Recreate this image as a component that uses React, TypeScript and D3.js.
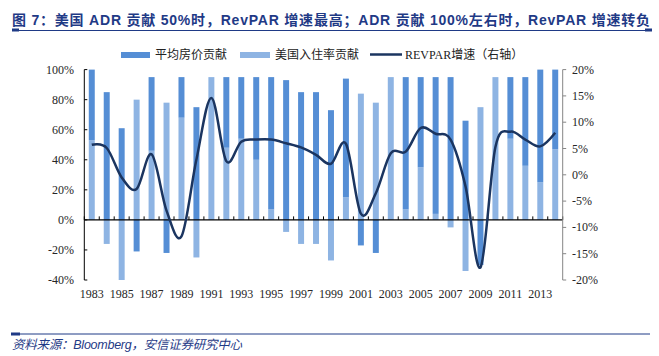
import React from "react";
import * as d3 from "d3";

const years = d3.range(1983, 2015).map(String);
const adrContribution = [47, 85, 61, -21, 49, -22, 27, 75, 0, 47, 41, 55, 88, 93, 85, 85, 73, 79, -17, -22, 0, 88, 60, 91, 95, 66, -30, 0, 41, 59, 75, 53];
const occContribution = [53, -16, -40, 80, 46, 78, 68, -25, 95, 48, 54, 40, 7, -8, -16, -16, -27, 15, 84, 78, 95, 7, 35, 4, -5, -34, 75, 95, 54, 36, 25, 47];
const revparGrowth = [5.7, 5.1, -0.5, -2.7, 3.9, -6.8, -11.7, 2.9, 14.6, 2.6, 6.3, 6.7, 6.7, 6.0, 5.2, 3.8, 2.1, 5.9, -7.4, -3.5, 4.1, 4.4, 8.9, 7.8, 6.7, -2.2, -17.6, 5.3, 8.2, 6.7, 5.4, 8.0];
const leftTicks = [-40, -20, 0, 20, 40, 60, 80, 100];
const rightTicks = [-20, -15, -10, -5, 0, 5, 10, 15, 20];
const xLabelYears = years.filter((_, i) => i % 2 === 0);

const title = "图 7：美国 ADR 贡献 50%时，RevPAR 增速最高；ADR 贡献 100%左右时，RevPAR 增速转负";
const source = "资料来源：Bloomberg，安信证券研究中心";
const legendNames = ["平均房价贡献", "美国入住率贡献", "REVPAR增速（右轴）"];

const DARK = "#558ED5";
const LIGHT = "#8EB4E3";
const LINE = "#1B3560";
const NAVY = "#1F3A86";

export default function App() {
  const left = 84.3, right = 562.7, top = 69.6, bottom = 280;
  const x = d3.scaleBand<string>().domain(years).range([left, right]).paddingInner(0.6).paddingOuter(0.3);
  const yL = d3.scaleLinear().domain([-40, 100]).range([bottom, top]);
  const yR = d3.scaleLinear().domain([-20, 20]).range([bottom, top]);

  const rows = years.map((yr, i) => ({ year: yr, occ: occContribution[i], adr: adrContribution[i] }));
  const stack = d3.stack<any>().keys(["occ", "adr"]).offset(d3.stackOffsetDiverging);
  const series = stack(rows);
  const colors: Record<string, string> = { occ: LIGHT, adr: DARK };

  const line = d3
    .line<number>()
    .x((_, i) => (x(years[i]) as number) + x.bandwidth() / 2)
    .y((d) => yR(d))
    .curve(d3.curveCatmullRom.alpha(0));

  const step = x.step();
  const boundaries = d3.range(years.length + 1).map((i) => left + (x.paddingOuter() - x.paddingInner() / 2) * 0 + i * ((right - left) / years.length));

  const serif = "'Liberation Serif', 'Times New Roman', 'Noto Sans CJK SC', serif";

  return (
    <svg width={659} height={356} style={{ position: "absolute", left: 0, top: 0, background: "#fff" }}>
      {/* Title */}
      <text x={12} y={25} fontFamily="'Liberation Sans', Arial, 'Noto Sans CJK SC', sans-serif" fontWeight="bold" fontSize={14} fill={NAVY} textLength={638} lengthAdjust="spacing">
        {title}
      </text>
      <line x1={12} x2={652} y1={30.5} y2={30.5} stroke={NAVY} strokeWidth={1} />
      <rect x={12} y={28.5} width={7} height={3} fill={NAVY} />
      <rect x={645} y={28.5} width={7} height={3} fill={NAVY} />

      {/* Legend */}
      <rect x={121} y={52} width={29} height={6} fill={DARK} />
      <text x={155} y={59} fontFamily={serif} fontSize={12} fill="#222">{legendNames[0]}</text>
      <rect x={240} y={52} width={30} height={6} fill={LIGHT} />
      <text x={275} y={59} fontFamily={serif} fontSize={12} fill="#222">{legendNames[1]}</text>
      <line x1={370} x2={402} y1={54.5} y2={54.5} stroke={LINE} strokeWidth={2.5} />
      <text x={405} y={59} fontFamily={serif} fontSize={12} fill="#222">{legendNames[2]}</text>

      {/* Bars */}
      {series.map((s) => (
        <g key={s.key} fill={colors[s.key]}>
          {s.map((d, i) => {
            const y0 = yL(d[0]);
            const y1 = yL(d[1]);
            const h = Math.abs(y0 - y1);
            if (h < 0.01) return null;
            return <rect key={i} x={x(years[i]) as number} y={Math.min(y0, y1)} width={x.bandwidth()} height={h} />;
          })}
        </g>
      ))}

      {/* Zero baseline with ticks */}
      <line x1={left} x2={right} y1={yL(0)} y2={yL(0)} stroke="#000" strokeWidth={1.2} />
      {boundaries.map((bx, i) => (
        <line key={i} x1={bx} x2={bx} y1={yL(0)} y2={yL(0) - 3.5} stroke="#000" strokeWidth={1} />
      ))}

      {/* Left axis */}
      <line x1={left} x2={left} y1={top} y2={bottom} stroke="#000" strokeWidth={1} />
      {leftTicks.map((t) => (
        <g key={t}>
          <line x1={left} x2={left + 3} y1={yL(t)} y2={yL(t)} stroke="#000" strokeWidth={1} />
          <text x={74} y={yL(t) + 4} textAnchor="end" fontFamily={serif} fontSize={12} fill="#262626">{t}%</text>
        </g>
      ))}

      {/* Right axis */}
      <line x1={right} x2={right} y1={top} y2={bottom} stroke="#868686" strokeWidth={1} />
      {rightTicks.map((t) => (
        <g key={t}>
          <line x1={right} x2={right + 3.5} y1={yR(t)} y2={yR(t)} stroke="#868686" strokeWidth={1} />
          <text x={572} y={yR(t) + 4} fontFamily={serif} fontSize={12} fill="#262626">{t}%</text>
        </g>
      ))}

      {/* X labels */}
      {xLabelYears.map((yr) => (
        <text key={yr} x={(x(yr) as number) + x.bandwidth() / 2} y={298} textAnchor="middle" fontFamily={serif} fontSize={12} fill="#262626">{yr}</text>
      ))}

      {/* RevPAR line */}
      <path d={line(revparGrowth) || ""} fill="none" stroke={LINE} strokeWidth={2.5} strokeLinejoin="round" />

      {/* Footer */}
      <line x1={11} x2={650} y1={334} y2={334} stroke={NAVY} strokeWidth={1} />
      <rect x={11} y={332.5} width={9} height={3} fill={NAVY} />
      <text x={12} y={349} fontFamily="'Liberation Sans', Arial, 'Noto Sans CJK SC', sans-serif" fontStyle="italic" fontSize={12.5} fill={NAVY} textLength={230} lengthAdjust="spacing">
        {source}
      </text>
    </svg>
  );
}
